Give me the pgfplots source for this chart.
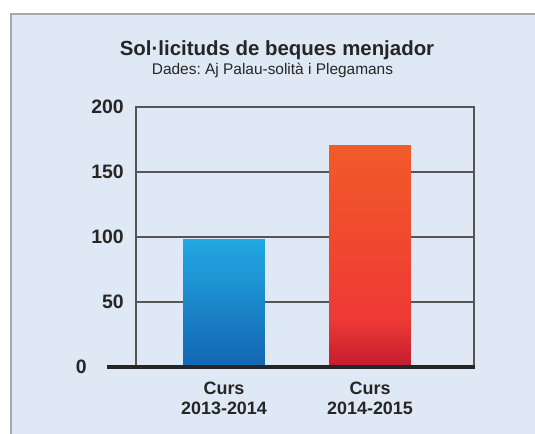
\documentclass[border=0pt]{standalone}
\usepackage{pgfplots}
\pgfplotsset{compat=1.18}
\usepackage{fontspec}
\setmainfont{Liberation Sans}
\frenchspacing
\definecolor{panel}{HTML}{DEE9F5}
\definecolor{pborder}{HTML}{A5A8AC}
\definecolor{txt}{HTML}{262626}
\definecolor{gridc}{HTML}{555555}
\definecolor{bltop}{HTML}{22A8E2}
\definecolor{blbot}{HTML}{1366B1}
\definecolor{rb1}{HTML}{C11C2E}
\definecolor{rb2}{HTML}{EE3A35}
\definecolor{rb3}{HTML}{F15A29}
\pgfdeclareverticalshading{redbar}{100bp}{color(0bp)=(rb1); color(25bp)=(rb1); color(36bp)=(rb2); color(75bp)=(rb3); color(100bp)=(rb3)}
\pgfdeclareverticalshading{bluebar}{100bp}{color(0bp)=(blbot); color(25bp)=(blbot); color(75bp)=(bltop); color(100bp)=(bltop)}
\begin{document}
\begin{tikzpicture}
\useasboundingbox (0,0) rectangle (535bp,434bp);
\fill[white] (0,0) rectangle (535bp,434bp);
\fill[panel] (11bp,0) rectangle (535bp,420bp);
\draw[pborder, line width=1.6bp] (11bp,0) -- (11bp,420bp) -- (535bp,420bp);
\node[anchor=base, text=txt, font=\fontsize{20.5}{24}\selectfont\bfseries, inner sep=0pt] at (277bp,378bp) {Sol·licituds de beques menjador};
\node[anchor=base, text=txt, font=\fontsize{15.5}{18}\selectfont, inner sep=0pt] at (272.5bp,359bp) {Dades: Aj Palau-solità i Plegamans};
\begin{axis}[
  at={(136bp,67bp)}, anchor=south west,
  width=338bp, height=260bp, scale only axis,
  xmin=-0.603, xmax=1.712, ymin=0, ymax=200,
  ytick={50,100,150,200},
  extra y ticks={0},
  extra y tick style={yticklabel style={xshift=-37bp}, ymajorgrids=false},
  xtick={0,1},
  xticklabels={{Curs\\2013-2014},{Curs\\2014-2015}},
  major tick length=0pt,
  xmajorgrids=false,
  ymajorgrids=true,
  major grid style={color=gridc, line width=1.1bp},
  axis line style={color=gridc, line width=1.1bp},
  /pgf/number format/assume math mode=true,
  yticklabel style={font=\fontsize{19.5}{22}\selectfont\bfseries, text=txt, anchor=east, inner sep=0pt, xshift=-12bp},
  xticklabel style={font=\fontsize{18}{20}\selectfont\bfseries, text=txt, align=center, anchor=north, inner sep=0pt, yshift=-15bp},
  ybar, bar width=0.56, bar shift=0pt,
  clip=false,
]
\addplot[draw=none, shading=bluebar] coordinates {(0,98)};
\addplot[draw=none, shading=redbar] coordinates {(1,170)};
\draw[txt, line width=3.5bp] ([xshift=-29bp]rel axis cs:0,0) -- ([xshift=0.5bp]rel axis cs:1,0);
\end{axis}
\end{tikzpicture}
\end{document}
